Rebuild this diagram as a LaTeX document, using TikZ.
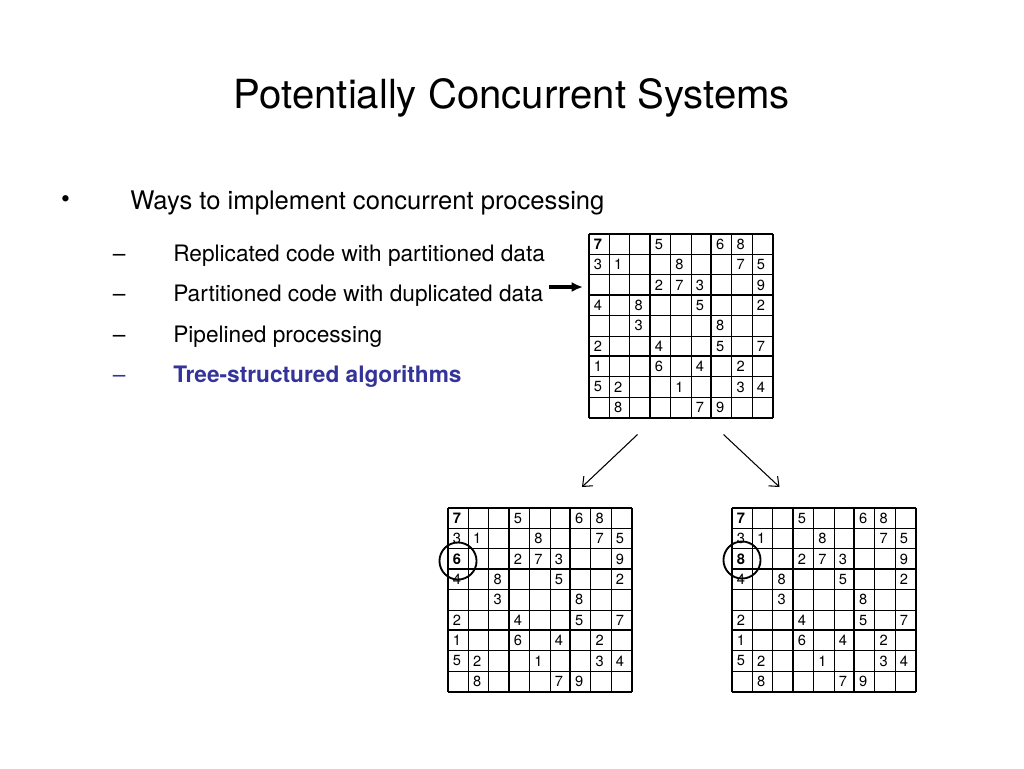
\documentclass[tikz,border=0pt]{standalone}
\usepackage{fontspec}
\setmainfont{TeX Gyre Heros}
\usepackage{xcolor}
\usetikzlibrary{arrows.meta}
\definecolor{slideblue}{HTML}{333399}

\tikzset{
  item/.style={anchor=base west, inner sep=0pt, font=\fontsize{17}{20}\selectfont},
  num/.style={anchor=west, inner sep=0pt, font=\fontsize{11}{12}\selectfont},
  gridthin/.style={line width=0.7pt},
  gridthick/.style={line width=1.6pt},
  ring/.style={line width=1.4pt},
  bigarrow/.style={line width=2.3pt, -{Latex[length=8.5pt,width=7.5pt]}},
  split/.style={line width=0.8pt, -{Straight Barb[length=6pt,width=10pt]}}
}

\begin{document}
\begin{tikzpicture}[x=0.75pt,y=-0.75pt]
        \useasboundingbox (0,0) rectangle (1024,768);
        \node[anchor=base, inner sep=0pt, font=\fontsize{30.1}{34}\selectfont] (title) at (512,108) {Potentially Concurrent Systems};
        \node[inner sep=0pt, font=\fontsize{19}{22}\selectfont] (bul) at (65.5,202) {\textbullet};
        \node[item, font=\fontsize{19.2}{22}\selectfont] (ways) at (130,209) {Ways to implement concurrent processing};
        \node[item] (d1) at (112.5,261) {--};
        \node[item] (d2) at (112.5,301) {--};
        \node[item] (d3) at (112.5,342) {--};
        \node[item, slideblue] (d4) at (112.5,382) {--};
        \node[item] (s1) at (173,261) {Replicated code with partitioned data};
        \node[item] (s2) at (173,301) {Partitioned code with duplicated data};
        \node[item] (s3) at (173,342) {Pipelined processing};
        \node[item, slideblue] (s4) at (173,382) {\bfseries Tree-structured algorithms};

        \foreach \gx/\gy/\g/\mid in {589/234/top/{}, 448/508/left/6, 732/508/right/8} {
          \foreach \k in {1,2,4,5,7,8} {
            \draw[gridthin] ({\gx+\k*20.4},\gy) -- ++(0,183.6);
            \draw[gridthin] (\gx,{\gy+\k*20.4}) -- ++(183.6,0);
          }
          \foreach \k in {0,3,6,9} {
            \draw[gridthick] ({\gx+\k*20.4},\gy) -- ++(0,183.6);
            \draw[gridthick] (\gx,{\gy+\k*20.4}) -- ++(183.6,0);
          }
          \foreach \row [count=\r] in {{,,,5,,,6,8,},{3,1,,,8,,,7,5},{,,,2,7,3,,,9},
                                       {4,,8,,,5,,,2},{,,3,,,,8,,},{2,,,4,,,5,,7},
                                       {1,,,6,,4,,2,},{5,2,,,1,,,3,4},{,8,,,,7,9,,}} {
            \foreach \v [count=\c] in \row {
              \node[num] (\g-\r-\c) at ({\gx+(\c-1)*20.4+4.5},{\gy+(\r-0.5)*20.4}) {\v};
            }
          }
          \node[num, font=\fontsize{11}{12}\selectfont\bfseries] (\g-first) at ({\gx+4.5},{\gy+10.2}) {7};
          \node[num, font=\fontsize{11}{12}\selectfont\bfseries] (\g-guess) at ({\gx+4.5},{\gy+51}) {\mid};
        }

        \draw[ring] (458,561) circle[radius=13.9pt];
        \draw[ring] (742,560) circle[radius=13.9pt];

        \coordinate (in0) at (549,287);
        \coordinate (in1) at (583,287);
        \draw[bigarrow] (in0) -- (in1);
        \coordinate (l0) at (637.5,434.5);
        \coordinate (l1) at (582,487);
        \coordinate (r0) at (723.5,434.5);
        \coordinate (r1) at (779.5,487);
        \draw[split] (l0) -- (l1);
        \draw[split] (r0) -- (r1);
\end{tikzpicture}
\end{document}
